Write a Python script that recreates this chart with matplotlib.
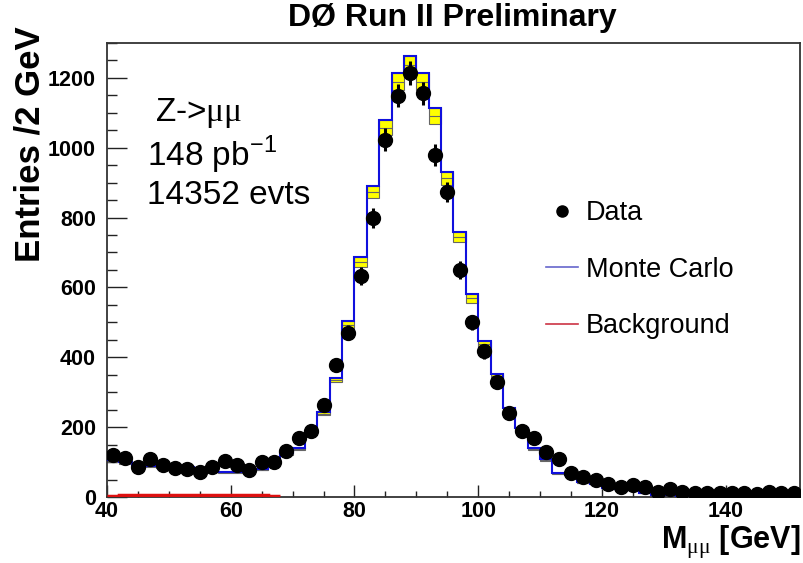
import numpy as np
import matplotlib
matplotlib.use("Agg")
import matplotlib.pyplot as plt
from matplotlib.lines import Line2D
from matplotlib.ticker import MultipleLocator

plt.rcParams['font.family'] = ['Liberation Sans', 'DejaVu Sans']
plt.rcParams['mathtext.fontset'] = 'custom'
plt.rcParams['mathtext.rm'] = 'Liberation Sans'
plt.rcParams['mathtext.sf'] = 'Liberation Serif'

# 2 GeV bins from 40 to 152
edges = np.arange(40, 153, 2)
centers = edges[:-1] + 1

data = [121, 112, 86, 109, 92, 83, 80, 72, 86, 103,
        92, 78, 100, 101, 132, 170, 190, 264, 377, 471,
        632, 799, 1023, 1149, 1213, 1155, 980, 873, 650, 500,
        417, 330, 241, 190, 170, 129, 109, 69, 57, 49,
        37, 29, 34, 29, 14, 22, 14, 13, 12, 13,
        12, 12, 10, 14, 12, 12]

mc = [105, 100, 92, 90, 88, 86, 85, 84, 74, 72,
      72, 78, 80, 102, 125, 140, 184, 244, 342, 503,
      687, 891, 1078, 1213, 1261, 1213, 1112, 931, 759, 580,
      448, 353, 256, 198, 141, 109, 70, 64, 42, 38,
      25, 23, 21, 11, 7, 5, 4, 3, 3, 2,
      2, 2, 1, 1, 1, 1]

bkg = [3, 5, 5, 5, 5, 5, 5, 5, 5, 5, 5, 5, 5, 4]
bkg_edges = edges[:len(bkg) + 1]

data = np.array(data, dtype=float)
mc = np.array(mc, dtype=float)
frac = 0.02  # MC uncertainty band

fig = plt.figure(figsize=(8.04, 5.63), dpi=100)
ax = fig.add_axes([0.133, 0.117, 0.862, 0.807])

# yellow uncertainty boxes
ax.bar(centers, 2 * frac * mc, bottom=(1 - 2 * frac) * mc, width=2,
       color='#ffff00', edgecolor='#666666', linewidth=0.8, zorder=2)
ax.hlines((1 - frac) * mc, edges[:-1], edges[1:], color='#666666', lw=0.8, zorder=2)
ax.stairs(mc, edges, baseline=None, color='#1010dd', lw=1.5, zorder=3)
ax.stairs(bkg, bkg_edges, baseline=None, color='#dd1010', lw=2.5, zorder=3)
ax.errorbar(centers, data, yerr=np.sqrt(data), fmt='o', color='black',
            ms=10, elinewidth=2.2, capsize=0, zorder=4)

ax.set_xlim(40, 152)
ax.set_ylim(0, 1300)
ax.xaxis.set_major_locator(MultipleLocator(20))
ax.xaxis.set_minor_locator(MultipleLocator(5))
ax.yaxis.set_major_locator(MultipleLocator(200))
ax.yaxis.set_minor_locator(MultipleLocator(50))
ax.tick_params(which='both', direction='in', top=False, right=False, color='#222222')
ax.tick_params(axis='x', which='major', length=8.6, width=1, pad=3)
ax.tick_params(axis='x', which='minor', length=4.3, width=1)
ax.tick_params(axis='y', which='major', length=14.4, width=1, pad=8)
ax.tick_params(axis='y', which='minor', length=7, width=1)
for lab in ax.get_xticklabels() + ax.get_yticklabels():
    lab.set_fontweight('bold')
    lab.set_fontsize(15.5)
for sp in ax.spines.values():
    sp.set_linewidth(1.3)
    sp.set_color('#333333')

def px(x, y):
    return x / 804, 1 - y / 563

fig.text(*px(452, 18), 'DØ Run II Preliminary', ha='center', va='center',
         fontsize=23, fontweight='bold')
fig.text(*px(30, 26), 'Entries /2 GeV', rotation=90, ha='center', va='top',
         fontsize=25, fontweight='bold')
fig.text(*px(800, 549), r'M$_{\mathsf{μμ}}$ [GeV]', ha='right', va='baseline',
         fontsize=22, fontweight='bold')

fig.text(*px(155, 113), r'Z->$\mathsf{μμ}$', ha='left', va='center', fontsize=24)
fig.text(*px(147, 155), r'148 pb$^{\mathrm{-1}}$', ha='left', va='center', fontsize=24)
fig.text(*px(147, 195), '14352 evts', ha='left', va='center', fontsize=24)

handles = [Line2D([], [], marker='o', ls='none', color='black', ms=8),
           Line2D([], [], color='#6666cc', lw=1.2),
           Line2D([], [], color='#cc3344', lw=1.2)]
ax.legend(handles, ['Data', 'Monte Carlo', 'Background'], loc='upper left',
          bbox_to_anchor=px(522, 176), bbox_transform=fig.transFigure,
          frameon=False, fontsize=19.5, handlelength=1.15, handletextpad=0.3,
          labelspacing=1.12)

fig.savefig('out.png', dpi=100)
